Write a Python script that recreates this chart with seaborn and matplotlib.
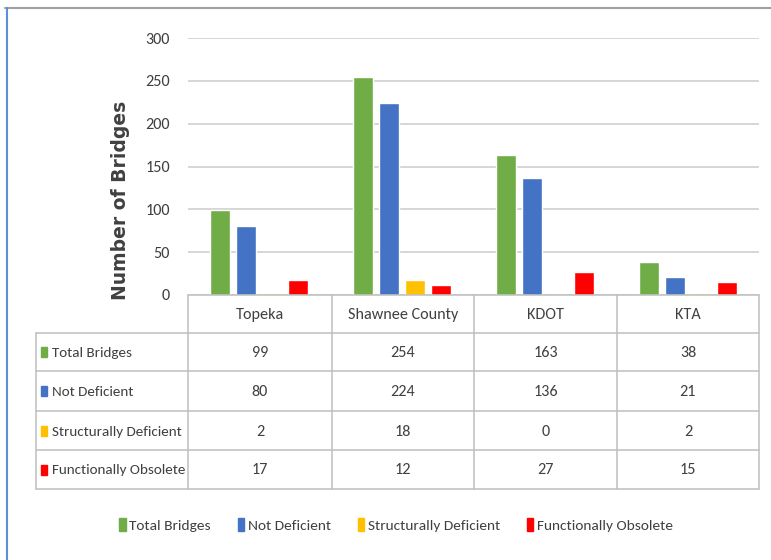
import matplotlib
matplotlib.use("Agg")
import matplotlib.pyplot as plt
from matplotlib.lines import Line2D
from matplotlib.patches import Rectangle
import seaborn as sns
import pandas as pd

categories = ["Topeka", "Shawnee County", "KDOT", "KTA"]
series = ["Total Bridges", "Not Deficient", "Structurally Deficient", "Functionally Obsolete"]
total_bridges = [99, 254, 163, 38]
not_deficient = [80, 224, 136, 21]
structurally_deficient = [2, 18, 0, 2]
functionally_obsolete = [17, 12, 27, 15]
y_ticks = [0, 50, 100, 150, 200, 250, 300]
colors = ["#70AD47", "#4472C4", "#FFC000", "#FF0000"]

values = [total_bridges, not_deficient, structurally_deficient, functionally_obsolete]
rows = []
for s, vals in zip(series, values):
    for c, v in zip(categories, vals):
        rows.append({"Agency": c, "Series": s, "Count": v})
df = pd.DataFrame(rows)

sns.set_style("white")
plt.rcParams["font.family"] = ["Carlito", "DejaVu Sans"]
FS = 11.1

W, H = 771, 560
fig = plt.figure(figsize=(W / 100, H / 100), dpi=100)

def fx(x):
    return x / W

def fy(y):
    return 1 - y / H

# plot area
L, R, T, B = 188, 759, 38, 295
ax = fig.add_axes([fx(L), fy(B), fx(R - L), (B - T) / H])
sns.barplot(data=df, x="Agency", y="Count", hue="Series", order=categories,
            hue_order=series, palette=colors, width=0.73, gap=0.23,
            saturation=1, ax=ax, legend=False)
ax.set_ylim(0, 300)
ax.set_xlim(-0.5, len(categories) - 0.5)
ax.set_yticks(y_ticks)
ax.set_yticklabels([str(t) for t in y_ticks], fontsize=FS * 1.05, color="#404040")
ax.tick_params(axis="y", length=0, pad=13)
ax.set_xticks([])
ax.set_xlabel("")
ax.set_ylabel("")
ax.yaxis.grid(True, color="#D0D0D0", linewidth=1.2)
ax.set_axisbelow(True)
for sp in ax.spines.values():
    sp.set_visible(False)

fig.text(fx(120), fy(200), "Number of Bridges", rotation=90, ha="center", va="center",
         fontsize=13.5, fontweight="bold", color="#404040", family=["DejaVu Sans"])

# data table
line_c = "#BFBFBF"
col_x = [188, 332, 474, 617, 759]
row_y = [295, 333, 371, 411, 450, 489]
tl = 36
def hline(y, x0, x1):
    fig.add_artist(Line2D([fx(x0), fx(x1)], [fy(y), fy(y)], color=line_c, lw=1.1))
def vline(x, y0, y1):
    fig.add_artist(Line2D([fx(x), fx(x)], [fy(y0), fy(y1)], color=line_c, lw=1.1))

hline(row_y[0], col_x[0], col_x[-1])
for y in row_y[1:]:
    hline(y, tl, col_x[-1])
for x in col_x:
    vline(x, row_y[0], row_y[-1])
vline(tl, row_y[1], row_y[-1])

txt_c = "#404040"
for i, c in enumerate(categories):
    cx = (col_x[i] + col_x[i + 1]) / 2
    cy = (row_y[0] + row_y[1]) / 2
    fig.text(fx(cx), fy(cy + 1), c, ha="center", va="center", fontsize=FS * 1.05, color=txt_c)

for r, (s, vals, col) in enumerate(zip(series, values, colors)):
    cy = (row_y[r + 1] + row_y[r + 2]) / 2
    fig.add_artist(Rectangle((fx(41), fy(cy + 5)), 6 / W, 10 / H, color=col,
                             transform=fig.transFigure))
    fig.text(fx(52), fy(cy + 1), s, ha="left", va="center", fontsize=FS * 0.98, color=txt_c)
    for i, v in enumerate(vals):
        cx = (col_x[i] + col_x[i + 1]) / 2
        fig.text(fx(cx), fy(cy + 1), str(v), ha="center", va="center", fontsize=FS * 1.05, color=txt_c)

# legend
handles = [Rectangle((0, 0), 1, 1, color=c) for c in colors]
fig.legend(handles, series, loc="center", bbox_to_anchor=(fx(396), fy(525)), ncol=4,
           frameon=False, fontsize=FS, handlelength=0.42, handleheight=0.85,
           handletextpad=0.22, columnspacing=1.75, labelcolor=txt_c)

# frame lines
fig.add_artist(Line2D([fx(5), fx(771)], [fy(8), fy(8)], color="#A0A0A0", lw=1.5))
fig.add_artist(Line2D([fx(7), fx(7)], [fy(8), fy(560)], color="#5B8FD6", lw=1.5))

fig.savefig("out.png", dpi=100)
